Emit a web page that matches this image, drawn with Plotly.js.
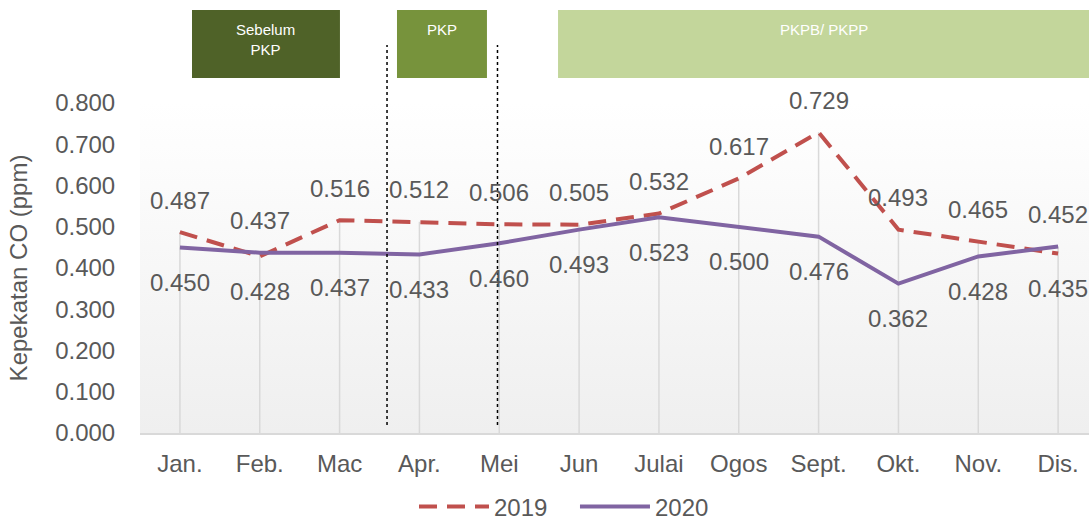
<!DOCTYPE html>
<html>
<head>
<meta charset="utf-8">
<script src="https://cdn.plot.ly/plotly-3.0.1.min.js"></script>
<style>
  html, body { margin: 0; padding: 0; background: #fff; }
  #chart { width: 1089px; height: 521px; }
</style>
</head>
<body>
<div id="chart"></div>
<script>
// Monthly CO concentration (ppm)
const months = ['Jan.', 'Feb.', 'Mac', 'Apr.', 'Mei', 'Jun', 'Julai', 'Ogos', 'Sept.', 'Okt.', 'Nov.', 'Dis.'];
const co2019 = [0.487, 0.428, 0.516, 0.512, 0.506, 0.505, 0.532, 0.617, 0.729, 0.493, 0.465, 0.435];
const co2020 = [0.450, 0.437, 0.437, 0.433, 0.460, 0.493, 0.523, 0.500, 0.476, 0.362, 0.428, 0.452];
const yTicks = [0, 0.1, 0.2, 0.3, 0.4, 0.5, 0.6, 0.7, 0.8];

// which side of the line each data label sits on
const side2019 = ['up', 'down', 'up', 'up', 'up', 'up', 'up', 'up', 'up', 'up', 'up', 'down'];
const side2020 = ['down', 'up', 'down', 'down', 'down', 'down', 'down', 'down', 'down', 'down', 'down', 'up'];

const FONT = 'Liberation Sans, Arial, sans-serif';
const GREY = '#595959';

// drop lines from the higher value down to the axis
const dropX = [], dropY = [];
months.forEach((m, i) => {
    dropX.push(m, m, null);
    dropY.push(0, Math.max(co2019[i], co2020[i]), null);
});

const traces = [
    {x: dropX, y: dropY, mode: 'lines', line: {color: '#d9d9d9', width: 1.5}, hoverinfo: 'skip', showlegend: false},
    {x: months, y: co2019, name: '2019', mode: 'lines', line: {color: '#c0504d', width: 4, dash: '18px,10px'}},
    {x: months, y: co2020, name: '2020', mode: 'lines', line: {color: '#8064a2', width: 4}}
];

const annotations = [];
function addLabels(vals, sides) {
    vals.forEach((v, i) => {
        annotations.push({
            x: months[i], y: v, text: v.toFixed(3), showarrow: false,
            yshift: sides[i] === 'up' ? 32 : -35,
            font: {family: FONT, size: 24, color: GREY}
        });
    });
}
addLabels(co2019, side2019);
addLabels(co2020, side2020);

// period boxes above the chart
const boxes = [
    {x0: 0.0548, x1: 0.2107, color: '#4f6228', text: 'Sebelum<br>PKP'},
    {x0: 0.2708, x1: 0.3656, color: '#77933c', text: 'PKP'},
    {x0: 0.4405, x1: 1.0, color: '#c3d69b', text: 'PKPB/ PKPP'}
];
const shapes = [];
boxes.forEach(b => {
    shapes.push({type: 'rect', xref: 'paper', yref: 'paper', x0: b.x0, x1: b.x1, y0: 1.0758, y1: 1.2818,
        fillcolor: b.color, line: {width: 0}, layer: 'above'});
    annotations.push({xref: 'paper', yref: 'paper', x: (b.x0 + b.x1) / 2, y: 1.256, xanchor: 'center', yanchor: 'top',
        text: b.text, showarrow: false, align: 'center',
        font: {family: FONT, size: 15, color: '#ffffff'}});
});
[0.2603, 0.3767].forEach(xp => {
    shapes.push({type: 'line', xref: 'paper', yref: 'paper', x0: xp, x1: xp, y0: 0.0242, y1: 1.1758,
        line: {color: '#000', width: 1.5, dash: 'dot'}, layer: 'above'});
});

const grad = '<svg xmlns="http://www.w3.org/2000/svg" width="100" height="100" preserveAspectRatio="none">' +
    '<defs><linearGradient id="g" x1="0" y1="0" x2="0" y2="1">' +
    '<stop offset="0" stop-color="#ffffff"/><stop offset="1" stop-color="#efefef"/></linearGradient></defs>' +
    '<rect width="100" height="100" fill="url(#g)"/></svg>';

const layout = {
    width: 1089, height: 521,
    margin: {l: 140, r: 0, t: 103, b: 88},
    paper_bgcolor: '#ffffff',
    plot_bgcolor: 'rgba(0,0,0,0)',
    font: {family: FONT, size: 24, color: GREY},
    showlegend: true,
    legend: {orientation: 'h', x: 0.2887, xanchor: 'left', yref: 'container', y: 0.027, yanchor: 'middle',
        itemwidth: 70, entrywidth: 76, entrywidthmode: 'pixels',
        font: {family: FONT, size: 24, color: GREY}},
    xaxis: {
        type: 'category', range: [-0.5, 11.387], showgrid: false, zeroline: false, automargin: false,
        showline: true, linecolor: '#d9d9d9', linewidth: 1.5,
        ticks: 'outside', ticklen: 9, tickcolor: 'rgba(0,0,0,0)',
        tickfont: {family: FONT, size: 24, color: GREY}
    },
    yaxis: {
        range: [0, 0.8], tickvals: yTicks, tickformat: '.3f', showgrid: false, zeroline: false, automargin: false,
        showline: false, ticks: 'outside', ticklen: 19, tickcolor: 'rgba(0,0,0,0)',
        tickfont: {family: FONT, size: 24, color: GREY},
        title: {text: 'Kepekatan CO (ppm)', standoff: 20, font: {family: FONT, size: 24, color: GREY}}
    },
    images: [{source: 'data:image/svg+xml;charset=utf-8,' + encodeURIComponent(grad),
        xref: 'paper', yref: 'paper', x: 0, y: 1, sizex: 1, sizey: 1, sizing: 'stretch', layer: 'below'}],
    shapes: shapes,
    annotations: annotations
};

Plotly.newPlot('chart', traces, layout, {displayModeBar: false, staticPlot: true});
</script>
</body>
</html>
